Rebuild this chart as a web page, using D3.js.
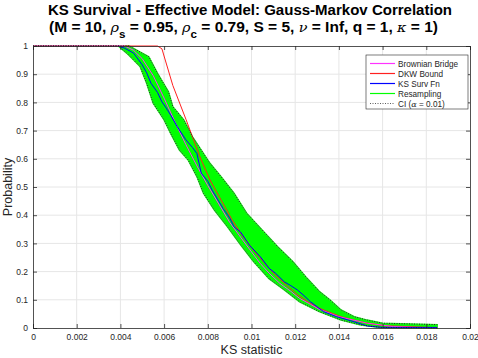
<!DOCTYPE html>
<html>
<head>
<meta charset="utf-8">
<script src="https://cdn.jsdelivr.net/npm/d3@7/dist/d3.min.js"></script>
<style>
body { margin: 0; background: #fff; }
svg { font-family: "Liberation Sans", Arial, Helvetica, sans-serif; }
</style>
</head>
<body>
<script>
// tick values / labels
var xTicks = [0, 0.002, 0.004, 0.006, 0.008, 0.01, 0.012, 0.014, 0.016, 0.018, 0.02]
var xTickLabels = ["0", "0.002", "0.004", "0.006", "0.008", "0.01", "0.012", "0.014", "0.016", "0.018", "0.02"]
var yTicks = [0, 0.1, 0.2, 0.3, 0.4, 0.5, 0.6, 0.7, 0.8, 0.9, 1]
var yTickLabels = ["0", "0.1", "0.2", "0.3", "0.4", "0.5", "0.6", "0.7", "0.8", "0.9", "1"]

// Brownian bridge (x, prob)
var bbX = [0, 0.0042, 0.0046, 0.0050, 0.0055, 0.0060, 0.0065, 0.0070, 0.0075, 0.0080, 0.0085, 0.0090, 0.0095, 0.0100, 0.0104, 0.0108, 0.0113, 0.0118, 0.0122, 0.0127, 0.0131, 0.0140, 0.0153, 0.0165, 0.0175, 0.0185]
var bbP = [1, 1, 0.985, 0.955, 0.895, 0.815, 0.73, 0.65, 0.575, 0.505, 0.44, 0.375, 0.322, 0.27, 0.229, 0.195, 0.158, 0.13, 0.105, 0.084, 0.066, 0.040, 0.017, 0.005, 0.002, 0.001]

// DKW bound
var dkwX = [0, 0.0057, 0.0059, 0.0064, 0.0070, 0.00764, 0.0081, 0.0086, 0.0091, 0.0096, 0.0101, 0.0106, 0.0111, 0.0116, 0.0121, 0.0126, 0.0131, 0.0141, 0.0151, 0.0161, 0.0185]
var dkwP = [1, 1, 0.99, 0.86, 0.74, 0.607, 0.525, 0.455, 0.385, 0.325, 0.275, 0.23, 0.187, 0.152, 0.118, 0.092, 0.07, 0.04, 0.02, 0.008, 0.001]

// KS survival function
var ksX = [0.0039, 0.0042, 0.0046, 0.0050, 0.0052, 0.0054, 0.0057, 0.0059, 0.0061, 0.0063, 0.0066, 0.0070, 0.0073, 0.0075, 0.0077, 0.0080, 0.0082, 0.0087, 0.0090, 0.0092, 0.0095, 0.0098, 0.0099, 0.0104, 0.0108, 0.0111, 0.0115, 0.0118, 0.0121, 0.0124, 0.0127, 0.0133, 0.0139, 0.0147, 0.0153, 0.0160, 0.0185]
var ksP = [1, 0.992, 0.975, 0.933, 0.905, 0.868, 0.835, 0.802, 0.78, 0.755, 0.714, 0.667, 0.64, 0.619, 0.549, 0.52, 0.489, 0.424, 0.39, 0.359, 0.34, 0.306, 0.294, 0.253, 0.212, 0.194, 0.164, 0.15, 0.135, 0.115, 0.093, 0.058, 0.04, 0.022, 0.007, 0.002, 0.002]

// CI upper (right edge of resampling band)
var ciHiX = [0, 0.0044, 0.0053, 0.0057, 0.0062, 0.0064, 0.0069, 0.0073, 0.0078, 0.0081, 0.0086, 0.0092, 0.0098, 0.0104, 0.0112, 0.0119, 0.0125, 0.0131, 0.0136, 0.0141, 0.0147, 0.0153, 0.0160, 0.0185]
var ciHiP = [1, 1, 0.962, 0.903, 0.838, 0.785, 0.738, 0.678, 0.619, 0.584, 0.537, 0.478, 0.405, 0.355, 0.288, 0.235, 0.18, 0.13, 0.099, 0.064, 0.040, 0.028, 0.017, 0.012]
// CI lower (left edge of resampling band)
var ciLoX = [0, 0.0039, 0.0043, 0.0049, 0.0052, 0.0055, 0.0060, 0.0063, 0.0067, 0.0071, 0.0075, 0.0078, 0.0083, 0.0089, 0.0095, 0.0101, 0.0108, 0.0115, 0.0122, 0.0131, 0.0141, 0.0150, 0.0159, 0.0185]
var ciLoP = [1, 1, 0.974, 0.927, 0.868, 0.797, 0.738, 0.69, 0.631, 0.596, 0.537, 0.478, 0.418, 0.359, 0.295, 0.235, 0.175, 0.135, 0.093, 0.058, 0.028, 0.011, 0.002, 0]

var W = 478, H = 358
var svg = d3.select("body").append("svg").attr("width", W).attr("height", H)

var x = d3.scaleLinear().domain([0, 0.02]).range([33, 470])
var y = d3.scaleLinear().domain([0, 1]).range([328, 46])

function pts(xs, ps) { return xs.map((v, i) => [v, ps[i]]) }

// grid
svg.append("g").selectAll("line").data(xTicks.slice(1, -1)).join("line")
  .attr("x1", d => x(d)).attr("x2", d => x(d)).attr("y1", y(0)).attr("y2", y(1))
  .attr("stroke", "#e6e6e6").attr("stroke-width", 1)
svg.append("g").selectAll("line").data(yTicks.slice(1, -1)).join("line")
  .attr("y1", d => y(d)).attr("y2", d => y(d)).attr("x1", x(0)).attr("x2", x(0.02))
  .attr("stroke", "#e6e6e6").attr("stroke-width", 1)

var line = d3.line().x(d => x(d[0])).y(d => y(d[1]))

// resampling band (filled between CI edges)
var hi = pts(ciHiX, ciHiP), lo = pts(ciLoX, ciLoP)
var bandPath = line(hi) + "L" + lo.slice().reverse().map(d => x(d[0]) + "," + y(d[1])).join("L") + "Z"
svg.append("path").attr("d", bandPath).attr("fill", "#00ff00").attr("stroke", "#22f022").attr("stroke-width", 1.5)

svg.append("path").attr("d", line(pts(dkwX, dkwP))).attr("fill", "none").attr("stroke", "#ff2020").attr("stroke-width", 1)
svg.append("path").attr("d", line(pts(bbX, bbP))).attr("fill", "none").attr("stroke", "#ff33ff").attr("stroke-width", 1)
svg.append("path").attr("d", line(pts(ksX, ksP))).attr("fill", "none").attr("stroke", "#0000ff").attr("stroke-width", 1)
svg.append("path").attr("d", line(hi)).attr("fill", "none").attr("stroke", "#222").attr("stroke-width", 1).attr("stroke-dasharray", "1,1.5")
svg.append("path").attr("d", line(lo)).attr("fill", "none").attr("stroke", "#222").attr("stroke-width", 1).attr("stroke-dasharray", "1,1.5")

// axes
var tickCol = "#262626"
var gx = svg.append("g").attr("transform", "translate(0," + y(0) + ")")
  .call(d3.axisBottom(x).tickValues(xTicks).tickFormat((d, i) => xTickLabels[i]).tickSize(-4).tickPadding(6))
var gy = svg.append("g").attr("transform", "translate(" + x(0) + ",0)")
  .call(d3.axisLeft(y).tickValues(yTicks).tickFormat((d, i) => yTickLabels[i]).tickSize(-4).tickPadding(5))
var gt = svg.append("g").attr("transform", "translate(0," + y(1) + ")")
  .call(d3.axisTop(x).tickValues(xTicks).tickFormat("").tickSize(-4))
var gr = svg.append("g").attr("transform", "translate(" + x(0.02) + ",0)")
  .call(d3.axisRight(y).tickValues(yTicks).tickFormat("").tickSize(-4))
;[gx, gy, gt, gr].forEach(g => {
  g.select(".domain").attr("stroke", tickCol).attr("stroke-width", 0.8)
  g.selectAll(".tick line").attr("stroke", tickCol).attr("stroke-width", 0.8)
  g.selectAll("text").attr("fill", tickCol).style("font-size", "8.5px").style("font-family", "Liberation Sans, Arial, sans-serif")
})

// labels
svg.append("text").attr("x", 251.5).attr("y", 354).attr("text-anchor", "middle")
  .style("font-size", "12.5px").attr("fill", tickCol).text("KS statistic")
svg.append("text").attr("transform", "translate(12,187) rotate(-90)").attr("text-anchor", "middle")
  .style("font-size", "12.5px").attr("fill", tickCol).text("Probability")

// title
svg.append("text").attr("x", 250).attr("y", 15).attr("text-anchor", "middle")
  .style("font-size", "14px").style("font-weight", "bold").attr("fill", "#000")
  .attr("textLength", 404).attr("lengthAdjust", "spacingAndGlyphs")
  .text("KS Survival - Effective Model: Gauss-Markov Correlation")
var t2 = svg.append("text").attr("x", 49).attr("y", 31.5)
  .style("font-size", "14px").style("font-weight", "bold").attr("fill", "#000")
var parts = [
  ["(M = 10, ", 0], ["ρ", 1], ["s", 2], [" = 0.95, ", 3], ["ρ", 1], ["c", 2], [" = 0.79, S = 5, ", 3],
  ["ν", 1], [" = Inf, q = 1, ", 0], ["κ", 1], [" = 1)", 0]
]
parts.forEach(p => {
  var ts = t2.append("tspan").text(p[0])
  if (p[1] == 1) ts.style("font-style", "italic").style("font-weight", "normal").style("font-family", "DejaVu Serif, serif").style("font-size", "13px")
  if (p[1] == 2) ts.attr("dy", 6).style("font-size", "10.5px")
  if (p[1] == 3) ts.attr("dy", -6)
})
// stretch line 2 to the reference width
var w2 = t2.node().getComputedTextLength()
if (w2 > 0) t2.attr("textLength", 389).attr("lengthAdjust", "spacingAndGlyphs")

// legend
var legItems = ["Brownian Bridge", "DKW Bound", "KS Surv Fn", "Resampling", "CI (α = 0.01)"]
var legCols = ["#ff33ff", "#ff2020", "#0000ff", "#00ff00", "#333"]
var leg = svg.append("g")
leg.append("rect").attr("x", 366).attr("y", 55).attr("width", 102).attr("height", 54)
  .attr("fill", "#fff").attr("stroke", tickCol).attr("stroke-width", 0.6)
legItems.forEach((name, i) => {
  var yy = 63.5 + i * 10
  leg.append("line").attr("x1", 370).attr("x2", 395).attr("y1", yy).attr("y2", yy)
    .attr("stroke", legCols[i]).attr("stroke-width", i == 4 ? 0.8 : 1.2)
    .attr("stroke-dasharray", i == 4 ? "1,1.5" : null)
  var tx = leg.append("text").attr("x", 398).attr("y", yy + 3).style("font-size", "8.2px").attr("fill", tickCol)
  if (i == 4) {
    tx.append("tspan").text("CI (")
    tx.append("tspan").text("α").style("font-style", "italic").style("font-family", "DejaVu Serif, serif")
    tx.append("tspan").text(" = 0.01)")
  } else tx.text(name)
})
</script>
</body>
</html>
